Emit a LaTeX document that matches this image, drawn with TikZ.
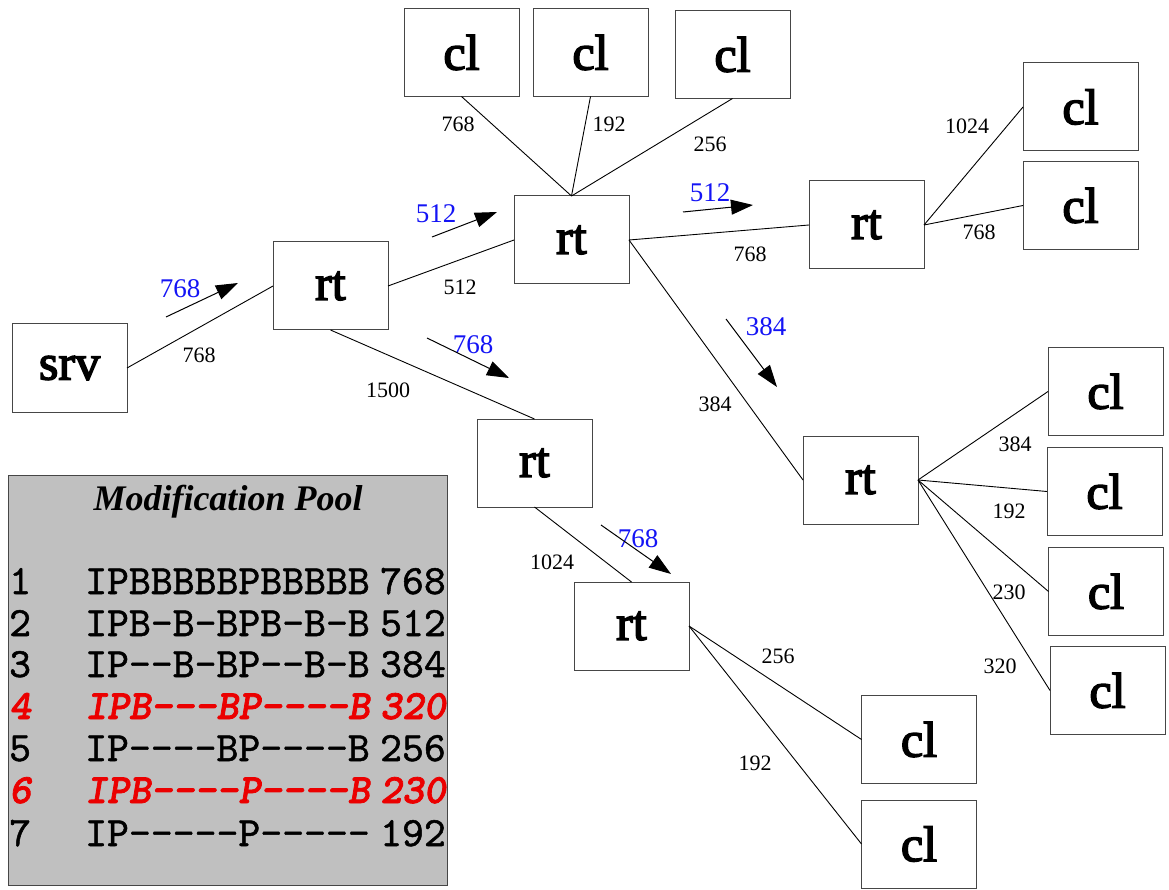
\documentclass[tikz,border=0pt]{standalone}
\usepackage{fontspec}
\setmainfont{Liberation Serif}
\newfontfamily\boxfont{Liberation Serif}[FakeBold=3]
\newfontfamily\poolmono{lmmono10-regular.otf}[FakeBold=1.2]
\newfontfamily\poolmonohot{lmmonolt10-boldoblique.otf}[FakeBold=1.8]
\usetikzlibrary{arrows.meta}
\definecolor{boxline}{RGB}{70,70,70}
\definecolor{poolgray}{RGB}{192,192,192}
\definecolor{rateblue}{RGB}{20,20,245}
\definecolor{hotred}{RGB}{235,0,0}
\tikzset{
  unit/.style={draw=boxline, line width=1pt, fill=white, rectangle,
    minimum width=115pt, minimum height=88pt, inner sep=0pt, outer sep=0pt,
    font=\boxfont\fontsize{50}{50}\selectfont},
  link/.style={line width=0.9pt, black},
  bw/.style={font=\fontsize{22}{22}\selectfont, inner sep=0pt},
  rate/.style={font=\fontsize{27}{27}\selectfont, text=rateblue, inner sep=0pt},
  flow/.style={line width=1pt, -{Triangle[length=22pt,width=15pt]}},
  poolrow/.style={font=\poolmono\fontsize{41.7}{41.7}\selectfont, inner sep=0pt},
  poolhot/.style={font=\poolmonohot\fontsize{41.7}{41.7}\selectfont, text=hotred, inner sep=0pt}
}
\begin{document}
\begin{tikzpicture}[x=1pt, y=-1pt]
\useasboundingbox (0,0) rectangle (1169,890);

% ---- nodes ----
\node[unit] (srv) at (69.5,368) {srv};
\node[unit] (rA) at (330.5,286) {rt};
\node[unit] (rB) at (571.5,240) {rt};
\node[unit] (rC) at (866.5,225) {rt};
\node[unit] (rD) at (534.5,463) {rt};
\node[unit] (rE) at (860.5,480) {rt};
\node[unit] (rF) at (631.5,626) {rt};

\node[unit] (cT1) at (461.5,52.5) {cl};
\node[unit] (cT2) at (590.5,52.5) {cl};
\node[unit] (cT3) at (732.5,54.5) {cl};
\node[unit] (cR1) at (1080.5,107) {cl};
\node[unit] (cR2) at (1080.5,205.5) {cl};
\node[unit] (cE1) at (1105.5,391.5) {cl};
\node[unit] (cE2) at (1104.5,491.5) {cl};
\node[unit] (cE3) at (1106,591.5) {cl};
\node[unit] (cE4) at (1107.5,690.5) {cl};
\node[unit] (cF1) at (919,739.5) {cl};
\node[unit] (cF2) at (919,844) {cl};

% ---- links ----
\draw[link] (srv.east) -- (rA.west);
\draw[link] (rA.east) -- (rB.west);
\draw[link] (rA.south) -- (rD.north);
\draw[link] (rB.north) -- (cT1.south);
\draw[link] (rB.north) -- (cT2.south);
\draw[link] (rB.north) -- (cT3.south);
\draw[link] (rB.east) -- (rC.west);
\draw[link] (rB.east) -- (rE.west);
\draw[link] (rC.east) -- (cR1.west);
\draw[link] (rC.east) -- (cR2.west);
\draw[link] (rE.east) -- (cE1.west);
\draw[link] (rE.east) -- (cE2.west);
\draw[link] (rE.east) -- (cE3.west);
\draw[link] (rE.east) -- (cE4.west);
\draw[link] (rD.south) -- (rF.north);
\draw[link] (rF.east) -- (cF1.west);
\draw[link] (rF.east) -- (cF2.west);

% ---- link capacities ----
\node[bw] (l1) at (199,355) {768};
\node[bw] (l2) at (460,287) {512};
\node[bw] (l3) at (388,390) {1500};
\node[bw] (l4) at (458,124) {768};
\node[bw] (l5) at (609,124) {192};
\node[bw] (l6) at (710,144) {256};
\node[bw] (l7) at (750,254) {768};
\node[bw] (l8) at (715,404) {384};
\node[bw] (l9) at (967,126) {1024};
\node[bw] (l10) at (979,232) {768};
\node[bw] (l11) at (1015,444) {384};
\node[bw] (l12) at (1009,511) {192};
\node[bw] (l13) at (1009,592) {230};
\node[bw] (l14) at (1000,666) {320};
\node[bw] (l15) at (552,562) {1024};
\node[bw] (l16) at (778,656) {256};
\node[bw] (l17) at (755,763) {192};

% ---- stream rates ----
\node[rate] (s1) at (180,289) {768};
\node[rate] (s2) at (436,214) {512};
\node[rate] (s3) at (473,345) {768};
\node[rate] (s4) at (710,193) {512};
\node[rate] (s5) at (766,327) {384};
\node[rate] (s6) at (638,539) {768};

\coordinate (a1s) at (166,317); \coordinate (a1e) at (238,283);
\coordinate (a2s) at (432,237); \coordinate (a2e) at (497,212);
\coordinate (a3s) at (427,338); \coordinate (a3e) at (509,378);
\coordinate (a4s) at (683,212); \coordinate (a4e) at (753,205);
\coordinate (a5s) at (726,319); \coordinate (a5e) at (777,387);
\coordinate (a6s) at (601,525); \coordinate (a6e) at (671,574);
\draw[flow] (a1s) -- (a1e);
\draw[flow] (a2s) -- (a2e);
\draw[flow] (a3s) -- (a3e);
\draw[flow] (a4s) -- (a4e);
\draw[flow] (a5s) -- (a5e);
\draw[flow] (a6s) -- (a6e);

% ---- modification pool ----
\node[draw=boxline, line width=1pt, fill=poolgray, rectangle, minimum width=439pt,
  minimum height=410pt, inner sep=0pt, outer sep=0pt] (pool) at (227.5,680) {};
\node[inner sep=0pt, anchor=base, font=\bfseries\itshape\fontsize{36}{36}\selectfont]
  (ptitle) at (228,510) {Modification Pool};

\foreach \n/\pat/\val/\yy/\sty in {
  1/IPBBBBBPBBBBB/768/594/poolrow,
  2/IPB-B-BPB-B-B/512/636/poolrow,
  3/IP--B-BP--B-B/384/677/poolrow,
  4/IPB---BP----B/320/719/poolhot,
  5/IP----BP----B/256/761/poolrow,
  6/IPB----P----B/230/803/poolhot,
  7/IP-----P-----/192/846/poolrow} {
  \node[\sty, anchor=base west] (pn\n) at (9,\yy) {\n};
  \node[\sty, anchor=base west] (pp\n) at (85,\yy) {\pat};
  \node[\sty, anchor=base east] (pv\n) at (446,\yy) {\val};
}
\end{tikzpicture}
\end{document}
